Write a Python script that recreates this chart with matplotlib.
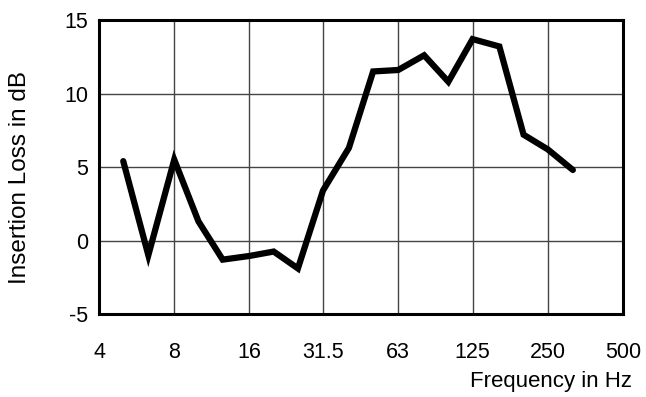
import numpy as np
import matplotlib.pyplot as plt

# third-octave band centres (Hz) and measured insertion loss (dB)
freqs = [5, 6.3, 8, 10, 12.5, 16, 20, 25, 31.5, 40, 50, 63, 80, 100, 125, 160, 200, 250, 315]
loss = [5.4, -1.0, 5.5, 1.3, -1.3, -1.05, -0.75, -1.9, 3.4, 6.3, 11.5, 11.6, 12.6, 10.8, 13.7, 13.2, 7.2, 6.2, 4.8]

xticks = [4, 8, 16, 31.5, 63, 125, 250, 500]
xticklabels = ["4", "8", "16", "31.5", "63", "125", "250", "500"]
yticks = [-5, 0, 5, 10, 15]

plt.rcParams["font.family"] = ["Liberation Sans", "DejaVu Sans"]
plt.rcParams["axes.unicode_minus"] = False

fig = plt.figure(figsize=(6.46, 3.97), dpi=100)
ax = fig.add_axes([0.1533, 0.209, 0.8111, 0.7406])

ax.plot(freqs, loss, color="black", linewidth=4.5, solid_joinstyle="miter", solid_capstyle="round")

ax.set_xscale("log", base=2)
ax.set_xlim(4, 500)
ax.set_ylim(-5, 15)
ax.set_xticks(xticks)
ax.set_xticklabels(xticklabels)
ax.minorticks_off()
ax.set_yticks(yticks)

ax.grid(True, color="#444444", linewidth=1.0)
ax.tick_params(length=0, labelsize=15.5, pad=8)
ax.tick_params(axis="x", pad=20)
for s in ax.spines.values():
    s.set_linewidth(2.2)
    s.set_color("black")

# axis titles
fig.text(0.031, 0.552, "Insertion Loss in dB", fontsize=17.5, rotation=90, ha="center", va="center")
fig.text(0.978, 0.012, "Frequency in Hz", fontsize=16, ha="right", va="bottom")

fig.savefig("out.png", dpi=100)
